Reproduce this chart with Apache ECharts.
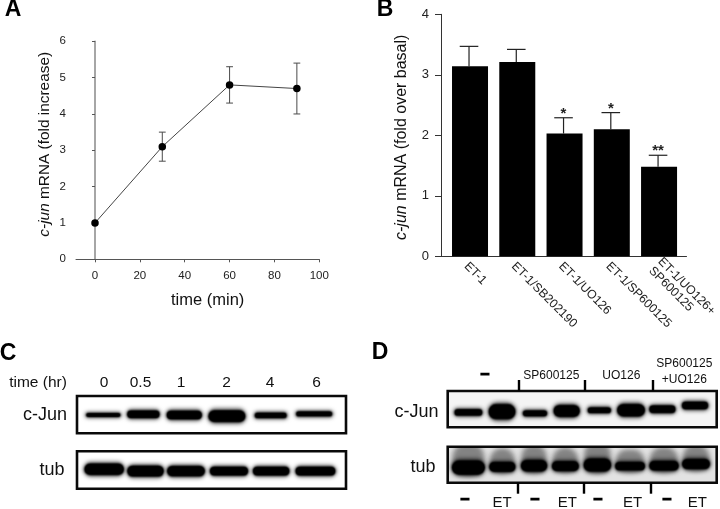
<!DOCTYPE html>
<html><head><meta charset="utf-8">
<style>html,body{margin:0;padding:0;background:#fff}#c{width:720px;height:509px}</style>
<script src="https://cdn.jsdelivr.net/npm/echarts@6/dist/echarts.min.js"></script>
</head><body><div id="c"></div>
<script>
// Panel A
const timeMin=[0,30,60,90];
const foldIncrease=[1,3.1,4.8,4.7];
const foldLow=[null,2.7,4.3,4.0];
const foldHigh=[null,3.5,5.3,5.4];
const ticksTimeMin=[0,20,40,60,80,100];
// Panel B
const treatments=['ET-1','ET-1/SB202190','ET-1/UO126','ET-1/SP600125','ET-1/UO126+\nSP600125'];
const treatmentPos=[1,2,3,4,5];
const foldBasal=[3.14,3.21,2.03,2.10,1.48];
const foldBasalHigh=[3.47,3.42,2.29,2.375,1.67];
const significance=['','','*','*','**'];
// Panel C blot (lane number, relative height in frame, band width in lanes, band thickness in frame)
const cLabels=['0','0.5','1','2','4','6'];
const cJunC_lane=[0,.95,1.92,2.93,3.97,5.0];
const cJunC_pos=[.49,.51,.49,.46,.48,.52];
const cJunC_width=[.87,.82,.89,.93,.81,.91];
const cJunC_thick=[.13,.25,.29,.39,.18,.16];
const tubC_lane=[.02,1.0,1.96,2.98,3.98,5.03];
const tubC_pos=[.52,.47,.47,.47,.47,.47];
const tubC_width=[.99,.92,.95,.96,.92,1.0];
const tubC_thick=[.375,.36,.34,.29,.29,.29];
// Panel D blot
const cJunD_lane=[0,1.04,2.06,3.04,4.05,5.03,6.0,7.01];
const cJunD_pos=[.41,.43,.385,.45,.47,.47,.50,.60];
const cJunD_width=[.93,.9,.82,.88,.79,.93,.88,.88];
const cJunD_thick=[.22,.51,.2,.4,.2,.42,.26,.26];
const tubD_lane=[0,1.05,2.03,3.0,3.99,5.0,6.05,7.04];
const tubD_pos=[.42,.44,.47,.46,.49,.46,.47,.52];
const tubD_width=[1.09,.88,.88,.9,.92,.99,.98,.93];
const tubD_thick=[.48,.33,.39,.33,.44,.28,.33,.35];
const dividerTopD=[1.57,3.61,5.70];
const dividerBottomD=[1.54,3.57,5.65];

const F='"Liberation Sans",Arial,sans-serif';
const zip=(...a)=>a[0].map((_,i)=>a.map(r=>r[i]));

function errA(params,api){
  const lo=api.value(1); if(lo===null||isNaN(lo))return;
  const x=api.value(0),hi=api.value(2);
  const a=api.coord([x,lo]),b=api.coord([x,hi]);
  const st={stroke:'#4a4a4a',lineWidth:1,fill:null};
  const cap=3.4;
  return {type:'group',children:[
    {type:'line',shape:{x1:a[0],y1:a[1],x2:b[0],y2:b[1]},style:st},
    {type:'line',shape:{x1:a[0]-cap,y1:a[1],x2:a[0]+cap,y2:a[1]},style:st},
    {type:'line',shape:{x1:b[0]-cap,y1:b[1],x2:b[0]+cap,y2:b[1]},style:st}]};
}
function errB(params,api){
  const x=api.value(0),v=api.value(1),hi=api.value(2);
  const a=api.coord([x,v]),b=api.coord([x,hi]);
  const st={stroke:'#222',lineWidth:1.2,fill:null};
  const cap=9.3,dx=-1;
  const kids=[
    {type:'line',shape:{x1:a[0]+dx,y1:a[1],x2:b[0]+dx,y2:b[1]},style:st},
    {type:'line',shape:{x1:b[0]+dx-cap,y1:b[1],x2:b[0]+dx+cap,y2:b[1]},style:st}];
  const s=significance[params.dataIndex];
  if(s)kids.push({type:'text',style:{text:s,x:b[0]+dx,y:b[1]-4,fill:'#222',align:'center',verticalAlign:'middle',font:'bold 15px '+F}});
  return {type:'group',children:kids};
}
// A shape drawn off to the side whose shadow lands on the band: gives a soft blot with no hard edge.
const OFF=3000;
const soft=(cx,cy,w,h,blur,color)=>({type:'rect',shape:{x:cx-w/2-OFF,y:cy-h/2,width:w,height:h,r:h/2},
  style:{fill:'#000',shadowBlur:blur,shadowColor:color,shadowOffsetX:OFF}});
function makeBand(smear){
  return function(params,api){
    const c=api.coord([api.value(0),api.value(1)]);
    const s=api.size([api.value(2),api.value(3)]);
    const w=s[0],h=s[1],kids=[];
    if(smear)kids.push(soft(c[0],c[1]-h/2,w-3,h*1.5+8,5,'rgba(0,0,0,0.42)'));
    kids.push(soft(c[0],c[1],w,h+1,4,'rgba(0,0,0,0.6)'));
    kids.push(soft(c[0],c[1],w-2,Math.max(h*.85,3),2.2,'rgba(0,0,0,1)'));
    kids.push(soft(c[0],c[1],w-3,Math.max(h*.72,2.2),1.4,'rgba(0,0,0,1)'));
    return {type:'group',children:kids};
  };
}
function blotSeries(idx,rows,smear){
  return {type:'custom',xAxisIndex:idx,yAxisIndex:idx,renderItem:makeBand(smear),data:rows,clip:true,silent:true,animation:false};
}
const frame=(left,right,top,bottom,bg)=>({left,top,width:right-left,height:bottom-top,show:true,borderWidth:2.6,borderColor:'#0a0a0a',backgroundColor:bg||'#fff',containLabel:false});
const blotX=(min,max,pos,ticks)=>({type:'value',position:pos||'bottom',min,max,splitLine:{show:false},axisLine:{show:false,onZero:false},axisLabel:{show:false},
  axisTick:ticks?{show:true,customValues:ticks,length:11,lineStyle:{color:'#000',width:2.4}}:{show:false}});
const blotY=()=>({type:'value',min:0,max:1,show:false,splitLine:{show:false}});
const txt=(text,x,y,size,extra)=>({type:'text',x,y,silent:true,style:Object.assign({text,fill:'#111',font:size+'px '+F,align:'center',verticalAlign:'middle'},extra||{})});
const dash=(x,y)=>txt('–',x,y,16,{font:'bold 16px '+F,fill:'#000',stroke:'#000',lineWidth:1.2});

const option={
  animation:false,
  textStyle:{fontFamily:F},
  grid:[
    {left:76,top:41.3,width:243.3,height:218,containLabel:false},
    {left:441,top:14.3,width:252,height:242,containLabel:false},
    frame(77,346,396,433.3),
    frame(77,346,451.3,488.7),
    frame(447.7,716.7,391,427.3,'#f4f4f4'),
    frame(447.7,716.7,446.7,482.7,'#e2e2e2')
  ],
  xAxis:[
    {gridIndex:0,type:'value',min:-8.47,max:100,splitLine:{show:false},
      axisLine:{lineStyle:{color:'#555',width:1}},
      axisTick:{customValues:ticksTimeMin,length:3,lineStyle:{color:'#555'}},
      axisLabel:{customValues:ticksTimeMin,color:'#222',fontSize:11.5,margin:11,fontFamily:F},
      name:'time (min)',nameLocation:'middle',nameGap:33,nameTextStyle:{fontSize:16.5,color:'#111',fontFamily:F,padding:[0,0,0,20]}},
    {gridIndex:1,type:'value',min:.386,max:5.581,splitLine:{show:false},
      axisLine:{lineStyle:{color:'#333',width:1}},
      axisTick:{show:false},
      axisLabel:{customValues:treatmentPos.map(v=>v-.08),color:'#222',fontSize:12.3,margin:8,rotate:-45,fontFamily:F,lineHeight:13,
        formatter:v=>treatments[Math.round(v+.08)-1]}},
    Object.assign(blotX(-.624,5.755),{gridIndex:2}),
    Object.assign(blotX(-.624,5.755),{gridIndex:3}),
    Object.assign(blotX(-.64,7.68,'top',dividerTopD),{gridIndex:4}),
    Object.assign(blotX(-.64,7.68,'bottom',dividerBottomD),{gridIndex:5})
  ],
  yAxis:[
    {gridIndex:0,type:'value',min:0,max:6,interval:1,splitLine:{show:false},
      axisLine:{show:true,lineStyle:{color:'#888',width:1.5}},
      axisTick:{show:true,length:3,lineStyle:{color:'#555'}},
      axisLabel:{color:'#222',fontSize:11.5,margin:10,fontFamily:F},
      name:'{i|c-jun} mRNA (fold increase)',nameLocation:'middle',nameGap:24,nameRotate:90,
      nameTextStyle:{fontSize:15.4,color:'#111',fontFamily:F,padding:[0,0,0,12],rich:{i:{fontStyle:'italic',fontSize:15.4,fontFamily:F,color:'#111'}}}},
    {gridIndex:1,type:'value',min:0,max:4,interval:1,splitLine:{show:false},
      axisLine:{show:true,lineStyle:{color:'#333',width:1}},
      axisTick:{show:true,length:6,lineStyle:{color:'#333'}},
      axisLabel:{color:'#222',fontSize:13,margin:12,fontFamily:F},
      name:'{i|c-jun} mRNA (fold over basal)',nameLocation:'middle',nameGap:31,nameRotate:90,
      nameTextStyle:{fontSize:16,color:'#111',fontFamily:F,padding:[0,4,0,0],rich:{i:{fontStyle:'italic',fontSize:16,fontFamily:F,color:'#111'}}}},
    Object.assign(blotY(),{gridIndex:2}),
    Object.assign(blotY(),{gridIndex:3}),
    Object.assign(blotY(),{gridIndex:4}),
    Object.assign(blotY(),{gridIndex:5})
  ],
  series:[
    {type:'custom',xAxisIndex:0,yAxisIndex:0,renderItem:errA,data:zip(timeMin,foldLow,foldHigh),z:2,silent:true,clip:false},
    {type:'line',xAxisIndex:0,yAxisIndex:0,data:zip(timeMin,foldIncrease),symbol:'circle',symbolSize:7.5,
      lineStyle:{color:'#444',width:1},itemStyle:{color:'#000'},z:3,silent:true},
    {type:'bar',xAxisIndex:1,yAxisIndex:1,data:zip(treatmentPos,foldBasal),barWidth:36,itemStyle:{color:'#000'},silent:true},
    {type:'custom',xAxisIndex:1,yAxisIndex:1,renderItem:errB,data:zip(treatmentPos,foldBasal,foldBasalHigh),silent:true,clip:false},
    blotSeries(2,zip(cJunC_lane,cJunC_pos,cJunC_width,cJunC_thick)),
    blotSeries(3,zip(tubC_lane,tubC_pos,tubC_width,tubC_thick)),
    blotSeries(4,zip(cJunD_lane,cJunD_pos,cJunD_width,cJunD_thick)),
    blotSeries(5,zip(tubD_lane,tubD_pos,tubD_width,tubD_thick),true)
  ],
  graphic:{elements:[
    txt('A',13,10,23,{font:'bold 23px '+F,fill:'#000'}),
    txt('B',385,10,23,{font:'bold 23px '+F,fill:'#000'}),
    txt('C',8,354,23,{font:'bold 23px '+F,fill:'#000'}),
    txt('D',380,353,23,{font:'bold 23px '+F,fill:'#000'}),
    txt('time (hr)',38,383,15.5),
    ...cLabels.map((t,i)=>txt(t,[104,140.5,181,226.5,270,316.5][i],383,15.5)),
    txt('c-Jun',45,415,18),
    txt('tub',52,470,18),
    txt('c-Jun',416.5,412,18),
    txt('tub',423,467.5,18),
    dash(485,375),
    txt('SP600125',551.3,375.5,12),
    txt('UO126',621.3,375.5,12),
    txt('SP600125',684.3,364,12),
    txt('+UO126',684.3,379.5,12),
    ...[465,535,598,667].map(x=>dash(x,500)),
    ...[502,567.3,632.7,697.3].map(x=>txt('ET',x,503,15))
  ]}
};
const chart=echarts.init(document.getElementById('c'),null,{renderer:'canvas'});
chart.setOption(option);
</script></body></html>
